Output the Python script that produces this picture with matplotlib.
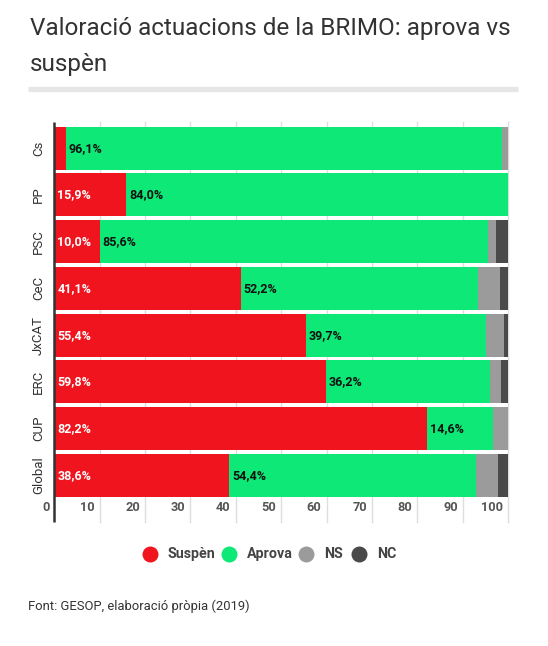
import numpy as np
import matplotlib
matplotlib.use('Agg')
import matplotlib.pyplot as plt
from matplotlib.lines import Line2D
from matplotlib.transforms import blended_transform_factory

plt.rcParams['font.family'] = ['Roboto', 'DejaVu Sans']

# data (percent), top to bottom
partits = ['Cs', 'PP', 'PSC', 'CeC', 'JxCAT', 'ERC', 'CUP', 'Global']
suspen = [2.5, 15.9, 10.0, 41.1, 55.4, 59.8, 82.2, 38.6]
aprova = [96.1, 84.0, 85.6, 52.2, 39.7, 36.2, 14.6, 54.4]
ns = [1.4, 0.1, 1.8, 4.9, 4.0, 2.4, 3.2, 4.7]
nc = [0.0, 0.0, 2.6, 1.8, 0.9, 1.6, 0.0, 2.3]
series = ['Suspèn', 'Aprova', 'NS', 'NC']
colors = ['#ef141e', '#0ee877', '#9b9b9b', '#4a4a4a']
xticks = [0, 10, 20, 30, 40, 50, 60, 70, 80, 90, 100]

W, H = 548, 646
fig = plt.figure(figsize=(W / 100, H / 100), dpi=100)

# title + rule
fig.text(30 / W, 1 - 35 / H, 'Valoració actuacions de la BRIMO: aprova vs',
         fontsize=17.5, color='#333333', va='baseline', ha='left')
fig.text(30 / W, 1 - 71 / H, 'suspèn', fontsize=17.5, color='#333333',
         va='baseline', ha='left')
fig.add_artist(Line2D([28 / W, 518 / W], [1 - 89 / H, 1 - 89 / H],
                      color='#e6e6e6', lw=3.8, solid_capstyle='butt'))

# plot area
left, right, top, bottom = 54.3, 508, 122, 497
ax = fig.add_axes([left / W, 1 - bottom / H, (right - left) / W, (bottom - top) / H])
n = len(partits)
y = np.arange(n)[::-1]
ax.set_xlim(0, 100)
ax.set_ylim(-0.46, n - 1 + 0.56)

vals = [suspen, aprova, ns, nc]
start = np.zeros(n)
for v, c in zip(vals, colors):
    v = np.array(v)
    ax.barh(y, v, left=start, height=0.92, color=c, zorder=3, linewidth=0)
    start = start + v

# value labels for suspèn and aprova
for yi, s, a in zip(y, suspen, aprova):
    if s >= 5:
        ax.annotate(f'{s:.1f}%'.replace('.', ','), (0, yi), xytext=(3, 0),
                    textcoords='offset pixels', va='center', ha='left',
                    fontsize=9, fontweight='bold', color='white', zorder=5)
    ax.annotate(f'{a:.1f}%'.replace('.', ','), (s, yi), xytext=(3, 0),
                textcoords='offset pixels', va='center', ha='left',
                fontsize=9, fontweight='bold', color='#111111', zorder=5)

for sp in ax.spines.values():
    sp.set_visible(False)
ax.set_xticks([])
ax.set_yticks([])

# grid lines and axis, extended below the plot
tr = blended_transform_factory(ax.transData, ax.transAxes)
ext = -(522 - bottom) / (bottom - top)
for t in xticks:
    if t > 0:
        ax.plot([t, t], [1, ext], color='#dedede', lw=1, transform=tr,
                clip_on=False, zorder=1)
    ax.annotate(str(t), (t, ext), xycoords=tr, xytext=(-5, 8),
                textcoords='offset pixels', ha='right', va='bottom',
                fontsize=9.2, fontweight='bold', color='#555555',
                annotation_clip=False)
ax.plot([0, 0], [1, ext], color='#333333', lw=1.8, transform=tr,
        clip_on=False, zorder=6, solid_capstyle='butt')

# category labels
for yi, p in zip(y, partits):
    ax.annotate(p, (0, yi), xytext=(-16, 0), textcoords='offset pixels',
                rotation=90, ha='center', va='center', fontsize=9.5,
                color='#333333', annotation_clip=False)

# legend drawn by hand (circle + label)
leg_x = [150, 229, 306, 359]
leg_y = 1 - 554 / H
for lx, name, c in zip(leg_x, series, colors):
    fig.add_artist(Line2D([lx / W], [leg_y], marker='o', ls='', markersize=11.5,
                          color=c, markeredgewidth=0))
    fig.text((lx + 18) / W, leg_y, name, fontsize=10.3, fontweight='bold',
             color='#444444', va='center', ha='left')

fig.text(28 / W, 1 - 606 / H, 'Font: GESOP, elaboració pròpia (2019)',
         fontsize=9.4, color='#333333', va='center', ha='left')

fig.savefig('out.png', dpi=100)
